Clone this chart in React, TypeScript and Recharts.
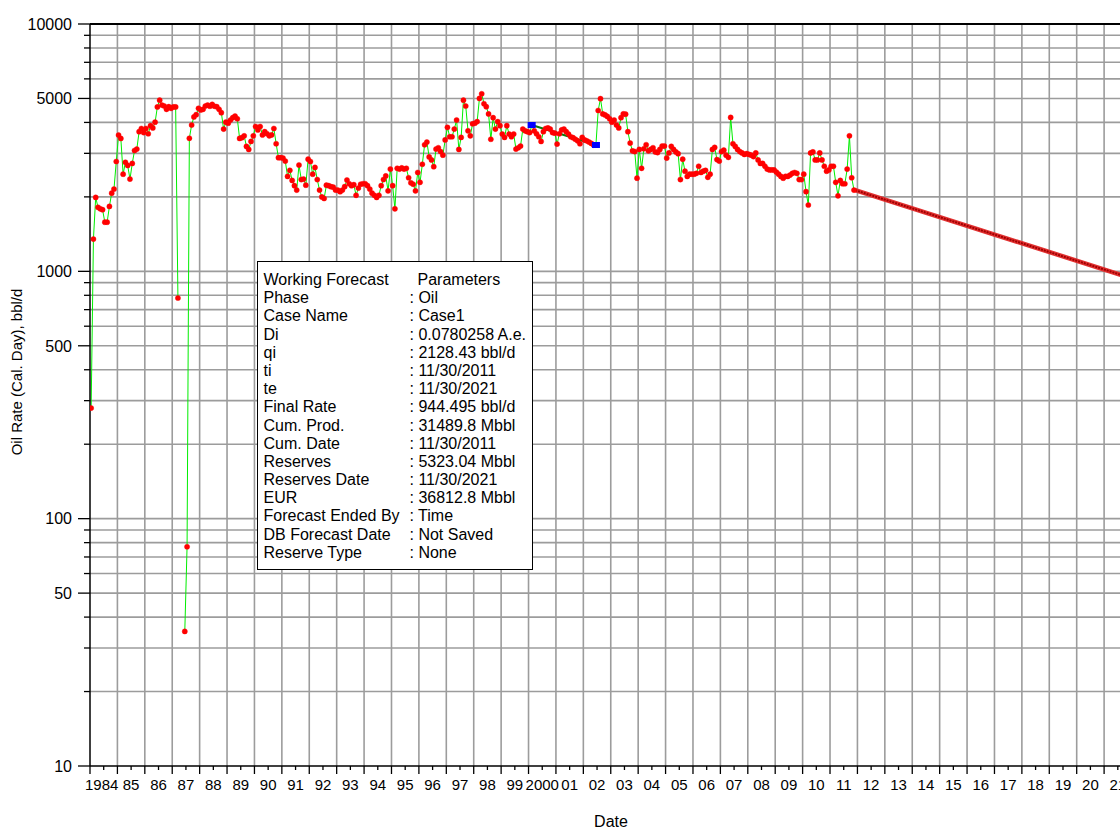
import React from 'react';
import {
  LineChart,
  Line,
  XAxis,
  YAxis,
  CartesianGrid,
  ReferenceLine
} from 'recharts';

const FONT = '"Liberation Sans", Arial, Helvetica, sans-serif';

// Monthly oil rate, bbl/d (Jan..Dec); null = month not produced
const rates1984 = [280, 1350, 1990, 1815, 1790, 1775, 1580, 1580, 1830, 2070, 2150, 2780];
const rates1985 = [3555, 3445, 2470, 2760, 2680, 2360, 2730, 3080, 3120, 3670, 3780, 3640];
const rates1986 = [3780, 3600, 3880, 3800, 4010, 4620, 4920, 4700, 4660, 4520, 4630, 4560];
const rates1987 = [4620, 4620, 780, null, null, 35, 77, 3450, 3905, 4210, 4300, 4560];
const rates1988 = [4490, 4520, 4660, 4700, 4650, 4730, 4650, 4630, 4520, 4380, 3760, 4010];
const rates1989 = [3970, 4090, 4180, 4240, 4140, 3445, 3470, 3530, 3200, 3110, 3350, 3530];
const rates1990 = [3850, 3730, 3850, 3560, 3670, 3600, 3530, 3560, 3780, 3280, 2880, 2880];
const rates1991 = [2870, 2790, 2420, 2560, 2330, 2220, 2130, 2690, 2350, 2360, 2230, 2840];
const rates1992 = [2780, 2470, 2630, 2350, 2130, 2000, 1970, 2230, 2220, 2200, 2190, 2130];
const rates1993 = [2130, 2100, 2130, 2200, 2340, 2260, 2220, 2240, 2030, 2170, 2250, 2260];
const rates1994 = [2260, 2220, 2150, 2070, 2030, 1990, 2030, 2220, 2350, 2430, 2115, 2590];
const rates1995 = [2220, 1790, 2610, 2590, 2620, 2590, 2610, 2390, 2280, 2250, 2115, 2510];
const rates1996 = [2290, 2710, 3250, 3330, 2900, 2820, 2650, 3120, 3160, 3050, 2950, 3400];
const rates1997 = [3820, 3500, 3500, 3760, 4090, 3110, 3480, 4920, 4660, 3700, 3530, 3950];
const rates1998 = [3970, 4030, 5000, 5220, 4760, 4630, 4330, 3420, 4180, 3760, 4030, 3880];
const rates1999 = [3590, 3480, 3880, 3590, 3500, 3590, 3120, 3160, 3210, 3760, 3700, 3670];
const rates2000 = [3640, 3900, 3700, 3600, 3500, 3350, 3670, 3780, 3800, 3760, 3640, 3620];
const rates2001 = [3270, 3600, 3730, 3760, 3670, 3590, 3500, 3470, 3420, 3370, 3280, 3480];
const rates2002 = [3400, 3370, 3330, 3290, 3240, 3240, 4470, 4990, 4330, 4290, 4230, 4140];
const rates2003 = [4010, 4090, 3905, 3800, 4180, 4330, 4320, 3670, 3300, 3070, 3050, 2380];
const rates2004 = [3110, 2610, 3130, 3250, 3070, 3110, 3160, 3040, 3020, 3110, 3210, 3210];
const rates2005 = [2870, 3010, 3200, 3110, 3040, 2990, 2350, 2840, 2540, 2420, 2470, 2470];
const rates2006 = [2470, 2490, 2660, 2510, 2540, 2560, 2400, 2470, 3110, 3170, 2830, 2790];
const rates2007 = [3050, 3090, 2950, 2890, 4190, 3280, 3200, 3110, 3050, 3010, 2970, 2990];
const rates2008 = [2970, 2950, 2910, 3010, 2820, 2730, 2730, 2660, 2590, 2570, 2570, 2570];
const rates2009 = [2520, 2470, 2420, 2380, 2420, 2420, 2450, 2490, 2510, 2490, 2350, 2350];
const rates2010 = [2470, 2100, 1854, 3010, 3040, 2820, 2820, 3010, 2820, 2660, 2540, 2570];
const rates2011 = [2660, 2660, 2290, 2020, 2330, 2260, 2260, 2590, 3530, 2390, 2130];

const rateYears = [
  rates1984, rates1985, rates1986, rates1987, rates1988, rates1989, rates1990,
  rates1991, rates1992, rates1993, rates1994, rates1995, rates1996, rates1997,
  rates1998, rates1999, rates2000, rates2001, rates2002, rates2003, rates2004,
  rates2005, rates2006, rates2007, rates2008, rates2009, rates2010, rates2011
];

// Exponential forecast: qi at ti, final rate at te
const forecastDates = [2011.917, 2021.917];
const forecastRates = [2128.43, 944.495];

// Fitted segment used for the decline match
const fitDates = [2000.115, 2002.46];
const fitRates = [3905, 3242];

const yearLabels = [
  '1984', '85', '86', '87', '88', '89', '90', '91', '92', '93', '94', '95', '96',
  '97', '98', '99', '2000', '01', '02', '03', '04', '05', '06', '07', '08', '09',
  '10', '11', '12', '13', '14', '15', '16', '17', '18', '19', '20', '21'
];

const yTickValues = [
  10, 20, 30, 40, 50, 60, 70, 80, 90,
  100, 200, 300, 400, 500, 600, 700, 800, 900,
  1000, 2000, 3000, 4000, 5000, 6000, 7000, 8000, 9000, 10000
];
const yLabelValues = [10, 50, 100, 500, 1000, 5000, 10000];
const yLabels = ['10', '50', '100', '500', '1000', '5000', '10000'];

const paramNames = [
  'Phase', 'Case Name', 'Di', 'qi', 'ti', 'te', 'Final Rate', 'Cum. Prod.',
  'Cum. Date', 'Reserves', 'Reserves Date', 'EUR', 'Forecast Ended By',
  'DB Forecast Date', 'Reserve Type'
];
const paramValues = [
  'Oil', 'Case1', '0.0780258 A.e.', '2128.43 bbl/d', '11/30/2011', '11/30/2021',
  '944.495 bbl/d', '31489.8 Mbbl', '11/30/2011', '5323.04 Mbbl', '11/30/2021',
  '36812.8 Mbbl', 'Time', 'Not Saved', 'None'
];

const history = rateYears.flatMap((months, k) =>
  months.map((v, m) => ({ t: 1984 + k + (m + 0.5) / 12, v }))
);
const forecast = forecastDates.map((t, i) => ({ t, v: forecastRates[i] }));
const fitLine = fitDates.map((t, i) => ({ t, v: fitRates[i] }));

const xTicks = yearLabels.flatMap((_, k) => [1984 + k, 1984 + k + 0.5]);
const yearGrid = yearLabels.slice(1).map((_, k) => 1985 + k);
const rateGrid = yTickValues.slice(1, -1);

function RateTick({ x, y, payload }: any) {
  const idx = yLabelValues.indexOf(payload.value);
  const major = idx >= 0;
  return (
    <g>
      <line x1={x - (major ? 12 : 6)} x2={x} y1={y} y2={y} stroke="#000" strokeWidth={1.3} />
      {major && (
        <text x={x - 18} y={y} dy="0.36em" textAnchor="end" fontSize={16} fontFamily={FONT} fill="#000">
          {yLabels[idx]}
        </text>
      )}
    </g>
  );
}

function DateTick({ x, y, payload }: any) {
  const v = payload.value;
  if (Number.isInteger(v)) {
    return <line x1={x} x2={x} y1={y} y2={y + 8} stroke="#000" strokeWidth={1.3} />;
  }
  const label = yearLabels[Math.floor(v) - 1984];
  return (
    <g>
      <line x1={x} x2={x} y1={y} y2={y + 4} stroke="#000" strokeWidth={1.3} />
      <text x={label.length === 4 && v < 1990 ? x - 2 : x} y={y + 24} textAnchor="middle" fontSize={15} fontFamily={FONT} fill="#000">
        {label}
      </text>
    </g>
  );
}

function FitMarker({ cx, cy }: any) {
  return <rect x={cx - 4} y={cy - 3} width={8} height={6} fill="#0000ff" />;
}

function ParamsBox() {
  const row = { display: 'flex', height: '18.2px', lineHeight: '18.2px' };
  return (
    <div style={{
      position: 'absolute', left: 257, top: 261, width: 276, height: 309,
      boxSizing: 'border-box', border: '1.5px solid #000', background: '#fff',
      padding: '9px 0 0 5.5px', fontFamily: FONT, fontSize: 16, color: '#000'
    }}>
      <div style={row}>
        <span style={{ width: 146, whiteSpace: 'nowrap' }}>Working Forecast</span>
        <span style={{ paddingLeft: 8 }}>Parameters</span>
      </div>
      {paramNames.map((name, i) => (
        <div key={name} style={row}>
          <span style={{ width: 146, whiteSpace: 'nowrap' }}>{name}</span>
          <span style={{ whiteSpace: 'nowrap' }}>: {paramValues[i]}</span>
        </div>
      ))}
    </div>
  );
}

export default function App() {
  return (
    <div style={{ position: 'absolute', left: 0, top: 0, width: 1120, height: 830, overflow: 'hidden', background: '#fff' }}>
      <LineChart width={1120} height={830} margin={{ top: 24, right: 0, bottom: 0, left: 0 }} style={{ fontFamily: FONT }}>
        <CartesianGrid
          horizontalValues={rateGrid}
          verticalValues={yearGrid}
          stroke="#9c9c9c"
          strokeWidth={1.6}
        />
        <XAxis
          type="number"
          dataKey="t"
          domain={[1984, 2021.58]}
          allowDataOverflow
          ticks={xTicks}
          interval={0}
          height={64}
          tickSize={0}
          tickMargin={0}
          tickLine={false}
          axisLine={{ stroke: '#000', strokeWidth: 1.5 }}
          tick={(p: any) => <DateTick {...p} />}
        />
        <YAxis
          type="number"
          dataKey="v"
          scale="log"
          domain={[10, 10000]}
          allowDataOverflow
          ticks={yTickValues}
          interval={0}
          width={90}
          tickSize={0}
          tickMargin={0}
          tickLine={false}
          axisLine={{ stroke: '#000', strokeWidth: 1.5 }}
          tick={(p: any) => <RateTick {...p} />}
        />
        <ReferenceLine y={10000} stroke="#000" strokeWidth={1.8} />
        <Line
          data={forecast}
          dataKey="v"
          stroke="#e23030"
          strokeWidth={4.5}
          dot={false}
          isAnimationActive={false}
        />
        <Line
          data={forecast}
          dataKey="v"
          stroke="#a00000"
          strokeWidth={2}
          strokeDasharray="2 1"
          dot={false}
          isAnimationActive={false}
        />
        <Line
          data={history}
          dataKey="v"
          stroke="#00ee00"
          strokeWidth={1}
          connectNulls={false}
          dot={{ r: 2.6, fill: '#ff0000', stroke: '#ff0000', strokeWidth: 0.4 }}
          isAnimationActive={false}
        />
        <Line
          data={fitLine}
          dataKey="v"
          stroke="#0b7a0b"
          strokeWidth={2}
          dot={(p: any) => <FitMarker key={p.index} {...p} />}
          isAnimationActive={false}
        />
      </LineChart>
      <ParamsBox />
      <div style={{
        position: 'absolute', left: 16, top: 372, transform: 'translate(-50%, -50%) rotate(-90deg)',
        whiteSpace: 'nowrap', fontFamily: FONT, fontSize: 15, color: '#000'
      }}>
        Oil Rate (Cal. Day), bbl/d
      </div>
      <div style={{
        position: 'absolute', left: 611, top: 822, transform: 'translate(-50%, -50%)',
        fontFamily: FONT, fontSize: 16, color: '#000'
      }}>
        Date
      </div>
    </div>
  );
}
